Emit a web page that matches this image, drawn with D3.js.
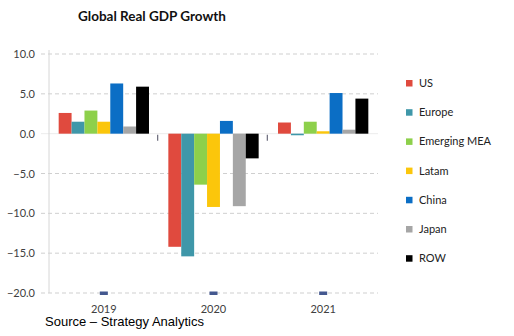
<!DOCTYPE html>
<html>
<head>
<meta charset="utf-8">
<script src="https://cdn.jsdelivr.net/npm/d3@7"></script>
<style>
  body { margin: 0; background: #fff; }
  svg text { font-family: Lato, "Open Sans", sans-serif; }
</style>
</head>
<body>
<div id="chart-area"></div>
<script>
// data
const years = ["2019", "2020", "2021"]
const regions = ["US", "Europe", "Emerging MEA", "Latam", "China", "Japan", "ROW"]
const colors = ["#e04a3e", "#3f97a9", "#8dd04b", "#fbc60b", "#0b6ec5", "#a6a6a6", "#000000"]
const us = [2.6, -14.2, 1.4]
const europe = [1.5, -15.4, -0.2]
const emea = [2.9, -6.4, 1.5]
const latam = [1.5, -9.2, 0.3]
const china = [6.3, 1.6, 5.1]
const japan = [0.9, -9.1, 0.5]
const row = [5.9, -3.1, 4.4]
const yTicks = [10, 5, 0, -5, -10, -15, -20]

const series = [us, europe, emea, latam, china, japan, row]

var svg = d3.select("#chart-area").append("svg")
    .attr("width", 514)
    .attr("height", 336)

var x = d3.scaleBand()
    .domain(years)
    .range([49, 378])

var x1 = d3.scaleBand()
    .domain(regions)
    .range([0, x.bandwidth()])
    .paddingOuter(0.75)

var y = d3.scaleLinear()
    .domain([-20, 10])
    .range([293, 54])

// title
svg.append("text")
    .attr("x", 152)
    .attr("y", 21)
    .attr("text-anchor", "middle")
    .attr("font-size", "13.5px")
    .attr("font-weight", "bold")
    .attr("fill", "#111")
    .text("Global Real GDP Growth")

// grid
svg.append("g")
    .selectAll("line")
    .data(yTicks.filter(d => d !== 0))
    .enter()
    .append("line")
    .attr("x1", 41)
    .attr("x2", 378)
    .attr("y1", d => y(d))
    .attr("y2", d => y(d))
    .attr("stroke", "#cfcfcf")
    .attr("stroke-dasharray", "4,3")

svg.append("line")
    .attr("x1", 41).attr("x2", 378)
    .attr("y1", y(0)).attr("y2", y(0))
    .attr("stroke", "#ececec")

svg.append("line")
    .attr("x1", 49).attr("x2", 49)
    .attr("y1", y(10) - 4).attr("y2", y(-20))
    .attr("stroke", "#d6d6d6")

var leftAxis = d3.axisLeft(y)
    .tickValues(yTicks)
    .tickFormat(d3.format(".1f"))
    .tickSize(0)
    .tickPadding(14)

var yAxisGroup = svg.append("g")
    .attr("transform", "translate(49,0)")
    .call(leftAxis)
yAxisGroup.select(".domain").remove()
yAxisGroup.selectAll("text")
    .attr("font-size", "11px")
    .attr("fill", "#404040")
    .attr("font-family", "Lato, sans-serif")

// bars
const groups = svg.append("g")
    .selectAll("g")
    .data(years)
    .enter()
    .append("g")
    .attr("transform", d => `translate(${x(d)},0)`)

groups.selectAll("rect")
    .data((yr, i) => regions.map((r, j) => ({region: r, value: series[j][i], color: colors[j]})))
    .enter()
    .append("rect")
    .attr("x", d => x1(d.region))
    .attr("width", x1.bandwidth())
    .attr("y", d => y(Math.max(0, d.value)))
    .attr("height", d => Math.max(1, Math.abs(y(d.value) - y(0))))
    .attr("fill", d => d.color)

// category ticks at zero line
svg.append("g")
    .selectAll("line")
    .data(years.slice(1))
    .enter()
    .append("line")
    .attr("x1", d => x(d) - 1)
    .attr("x2", d => x(d) - 1)
    .attr("y1", y(0) + 1)
    .attr("y2", y(0) + 7)
    .attr("stroke", "#6a6a7a")
    .attr("stroke-width", 1.2)

// small markers at base
svg.append("g")
    .selectAll("rect")
    .data(years)
    .enter()
    .append("rect")
    .attr("x", d => x(d) + x.bandwidth() / 2 - 4)
    .attr("y", y(-20) - 1.5)
    .attr("width", 8)
    .attr("height", 3.5)
    .attr("fill", "#44588f")

// x labels
svg.append("g")
    .selectAll("text")
    .data(years)
    .enter()
    .append("text")
    .attr("x", d => x(d) + x.bandwidth() / 2)
    .attr("y", 313)
    .attr("text-anchor", "middle")
    .attr("font-size", "11px")
    .attr("fill", "#404040")
    .text(d => d)

// legend
const legend = svg.append("g")
    .attr("transform", "translate(406,80)")

const legendItems = legend.selectAll(".legend-item")
    .data(regions)
    .enter()
    .append("g")
    .attr("class", "legend-item")
    .attr("transform", (d, i) => `translate(0, ${i * 29.2})`)

legendItems.append("rect")
    .attr("width", 6.5)
    .attr("height", 6.5)
    .attr("fill", (d, i) => colors[i])

legendItems.append("text")
    .attr("x", 13)
    .attr("y", 7)
    .attr("font-size", "11px")
    .attr("fill", "#222")
    .text(d => d)

// source
svg.append("text")
    .attr("x", 45)
    .attr("y", 326)
    .attr("font-size", "13px")
    .attr("fill", "#000")
    .style("font-family", "Arial, 'Liberation Sans', sans-serif")
    .text("Source \u2013 Strategy Analytics")
</script>
</body>
</html>
